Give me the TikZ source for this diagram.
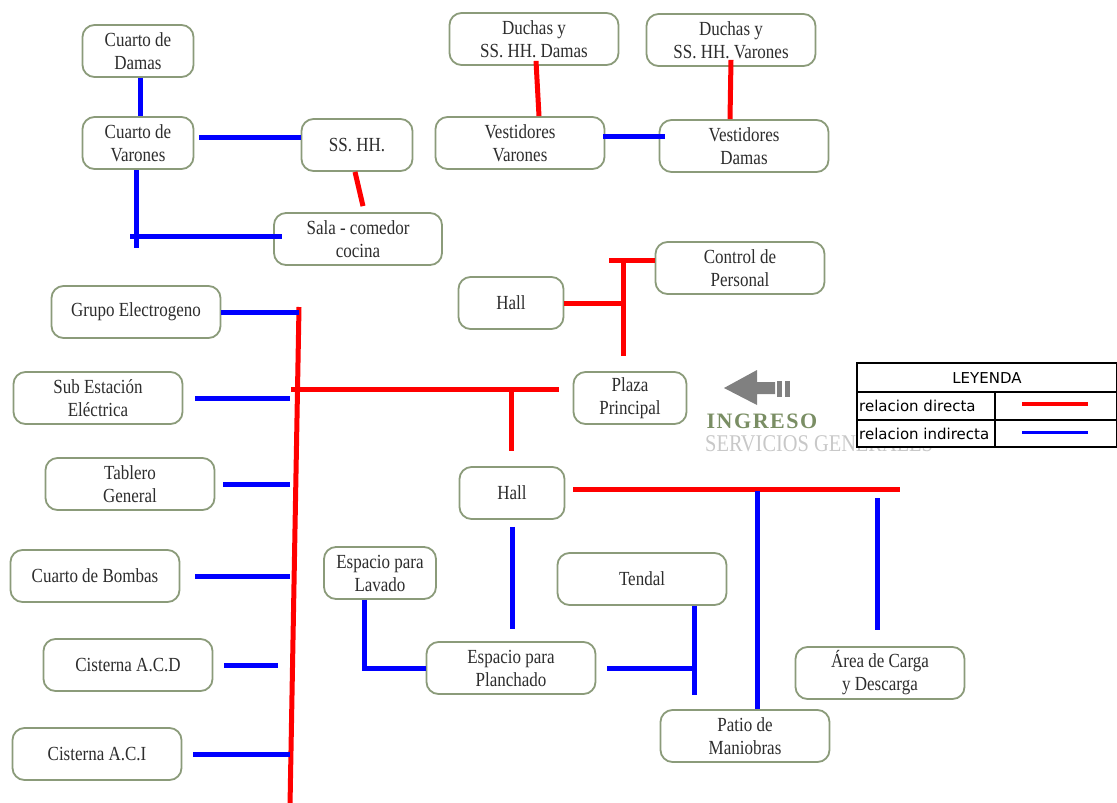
\documentclass[tikz,border=0pt]{standalone}
\usepackage{fontspec}
\setmainfont{Liberation Serif}[FakeStretch=0.85]
\newfontfamily\leyendafont{DejaVu Sans}
\newfontfamily\ingresofont{Liberation Serif}[LetterSpace=7]
\usepackage{tikz}

\definecolor{borde}{RGB}{139,155,122}
\definecolor{texto}{RGB}{45,45,45}
\definecolor{ingresoverde}{RGB}{122,142,100}
\definecolor{flecha}{RGB}{128,128,128}
\definecolor{servgris}{RGB}{200,200,200}

\tikzset{
  amb/.style={draw=borde, line width=1.8pt, rounded corners=12pt, fill=white,
    text=texto, align=center, minimum width=169pt, minimum height=52pt,
    inner sep=1pt, font=\fontsize{20}{23}\selectfont},
  ambc/.style={amb, minimum width=111pt},
  ambh/.style={amb, minimum width=105pt},
  directa/.style={draw=red, line width=5pt},
  indirecta/.style={draw=blue, line width=5pt},
  leyendatxt/.style={font=\leyendafont\fontsize{15}{15}\selectfont, inner sep=2pt},
}

\begin{document}
\begin{tikzpicture}[x=1pt,y=-1pt]
    \useasboundingbox (0,0) rectangle (1117,803);

    % Vivienda de personal
    \node[ambc] (cdam) at (138,51) {Cuarto de\\Damas};
    \node[ambc] (cvar) at (138,143) {Cuarto de\\Varones};
    \node[ambc] (sshh) at (357,145) {SS. HH.};
    \node[amb, minimum width=168pt] (sala) at (358,239) {Sala - comedor\\cocina};

    % Vestidores
    \node[amb] (ducd) at (534,39) {Duchas y\\SS. HH. Damas};
    \node[amb] (ducv) at (731,40) {Duchas y\\SS. HH. Varones};
    \node[amb] (vesv) at (520,143) {Vestidores\\Varones};
    \node[amb] (vesd) at (744,146) {Vestidores\\Damas};

    % Ingreso
    \node[amb] (ctl) at (740,268) {Control de\\Personal};
    \node[ambh] (hallA) at (511,303) {Hall};
    \node[ambc, minimum width=113pt] (plaza) at (630,398) {Plaza\\Principal};
    \node[ambh] (hallB) at (512,493) {Hall};

    % Equipos
    \node[amb] (grupo) at (136,312) {Grupo Electrogeno};
    \node[amb] (sube) at (98,398) {Sub Estación\\Eléctrica};
    \node[amb] (tabl) at (130,484) {Tablero\\General};
    \node[amb] (bomb) at (95,576) {Cuarto de Bombas};
    \node[amb] (acd) at (128,665) {Cisterna A.C.D};
    \node[amb] (aci) at (97,754) {Cisterna A.C.I};

    % Servicios
    \node[ambc, minimum width=112pt] (lav) at (380,573) {Espacio para\\Lavado};
    \node[amb] (tend) at (642,579) {Tendal};
    \node[amb] (plan) at (511,668) {Espacio para\\Planchado};
    \node[amb] (patio) at (745,736) {Patio de\\Maniobras};
    \node[amb] (area) at (880,673) {Área de Carga\\y Descarga};

    % Junctions
    \coordinate (busT) at (299,307);
    \coordinate (busB) at (290,806);
    \coordinate (busL) at (291,389);
    \coordinate (plzJ) at (511,389);
    \coordinate (ctlL) at (609,260);
    \coordinate (ctlJ) at (623,260);
    \coordinate (ctlB) at (623,356);
    \coordinate (h2R) at (900,489);
    \coordinate (cvarB) at (136,248);
    \coordinate (salaL) at (130,236);
    \coordinate (patJ) at (757,491);
    \coordinate (areJ) at (877,498);
    \coordinate (lavK) at (364,668);
    \coordinate (tenK) at (694,668);
    \coordinate (tenB) at (694,695);

    % Relacion directa
    \draw[directa] (busT) -- (busB);
    \draw[directa, shorten >=14pt] (busL) -- (busL -| plaza.west);
    \draw[directa, shorten >=15pt] (plzJ) -- (plzJ |- hallB.north);
    \draw[directa] (ctlL) -- (ctlL -| ctl.west);
    \draw[directa] (ctlJ) -- (ctlB);
    \draw[directa] (hallA.east) -- (hallA.east -| ctlJ);
    \draw[directa, shorten <=8pt] (hallB.east |- h2R) -- (h2R);
    \draw[directa] ([xshift=2pt,yshift=5pt]ducd.south) -- ([xshift=19pt]vesv.north);
    \draw[directa] ([yshift=7pt]ducv.south) -- ([xshift=-14pt]vesd.north);
    \draw[directa] ([xshift=-2pt]sshh.south) -- ([xshift=5pt,yshift=6pt]sala.north);

    % Relacion indirecta
    \draw[indirecta] ([xshift=2pt]cdam.south) -- ([xshift=2pt]cvar.north);
    \draw[indirecta] ([xshift=5pt,yshift=6pt]cvar.east) -- ([yshift=8pt]sshh.west);
    \draw[indirecta] ([xshift=-2pt]cvar.south) -- (cvarB);
    \draw[indirecta] (salaL) -- ([xshift=9pt,yshift=3pt]sala.west);
    \draw[indirecta] ([xshift=-2pt,yshift=7pt]vesv.east) -- ([xshift=6pt,yshift=10pt]vesd.west);
    \draw[indirecta] (grupo.east) -- (grupo.east -| busT);
    \foreach \n/\a/\b in {sube/12pt/0pt, tabl/8pt/0pt, bomb/15pt/0pt, acd/11pt/12pt, aci/11pt/0pt} {
        \draw[indirecta, shorten <=\a, shorten >=\b] (\n.east) -- (\n.east -| busB);
    }
    \draw[indirecta, shorten <=7pt, shorten >=12pt] (hallB.south) -- (hallB.south |- plan.north);
    \draw[indirecta] (patJ) -- (patJ |- patio.north);
    \draw[indirecta, shorten >=16pt] (areJ) -- (areJ |- area.north);
    \draw[indirecta] (lav.south -| lavK) -- (lavK) -- (lavK -| plan.west);
    \draw[indirecta] (tend.south -| tenK) -- (tenB);
    \draw[indirecta, shorten <=11pt] (plan.east) -- (tenK);

    % Flecha de ingreso
    \fill[flecha] (724,388) -- (757,370) -- (757,382) -- (775,382) -- (775,394)
        -- (757,394) -- (757,405) -- cycle;
    \fill[flecha] (777,381) rectangle (782,397);
    \fill[flecha] (785,381) rectangle (790,397);
    \node[font=\ingresofont\bfseries\fontsize{22}{22}\selectfont, text=ingresoverde] (ingreso) at (762,421) {INGRESO};
    \node[anchor=west, font=\fontsize{24}{24}\selectfont, text=servgris, inner sep=0pt] (servicios) at (705,444) {SERVICIOS GENERALES};

    % Leyenda
    \draw[fill=white, line width=1.2pt] (857,363) rectangle (1116.4,447);
    \draw[line width=1.2pt] (857,392) -- (1117,392) (857,420) -- (1117,420) (995,392) -- (995,447);
    \node[leyendatxt] (leyenda) at (987,378) {LEYENDA};
    \node[leyendatxt, anchor=west] (ldir) at (857,406) {relacion directa};
    \node[leyendatxt, anchor=west] (lind) at (857,434) {relacion indirecta};
    \draw[red, line width=4pt] (1022,404) -- (1088,404);
    \draw[blue, line width=3pt] (1022,432) -- (1088,432);
\end{tikzpicture}
\end{document}
